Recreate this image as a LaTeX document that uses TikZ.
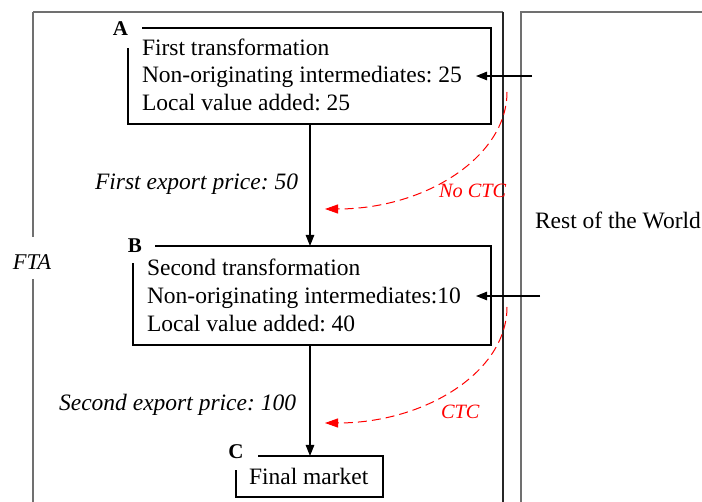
\documentclass[tikz,border=0pt]{standalone}
\usepackage{fontspec}
\setmainfont{Liberation Serif}
\usetikzlibrary{arrows.meta}
\definecolor{framegray}{HTML}{707070}
\frenchspacing
\begin{document}
\begin{tikzpicture}[x=1pt,y=-1pt,
  every node/.style={inner sep=0pt, outer sep=0pt},
  txt/.style={anchor=base west, font=\fontsize{23.5}{27}\selectfont},
  itxt/.style={anchor=base east, font=\fontsize{23.5}{27}\selectfont\itshape},
  redtxt/.style={anchor=base west, text=red, font=\fontsize{20.3}{23}\selectfont\itshape},
  letter/.style={font=\fontsize{21}{24}\selectfont\bfseries},
  area/.style={draw=none, rectangle},
  boxline/.style={draw=black, line width=1.1pt},
  frame/.style={draw=framegray, line width=1.4pt},
  flow/.style={draw=black, line width=1.1pt, -{Triangle[length=11pt,width=8.5pt]}},
  ctc/.style={draw=red, line width=1pt, dash pattern=on 9pt off 5pt,
    -{Triangle[length=13pt,width=9pt]}, red},
]
\useasboundingbox (0,0) rectangle (702,502);

% FTA region
\node[font=\fontsize{22.5}{26}\selectfont\itshape, inner sep=0pt] (fta) at (32,262) {FTA};
\draw[frame] (33,12) -- (503,12);
\draw[frame] (33,12) -- (33,237);
\draw[frame] (33,279) -- (33,510);
\draw[draw=black!85, line width=1.1pt] (503,12) -- (503,510);

% Rest of the World region
\draw[frame] (710,12) -- (521,12) -- (521,510);
\node[txt] (row) at (535,229) {Rest of the World};

% Box A
\node[area, minimum width=363pt, minimum height=96pt] (A) at (309.5,76) {};
\draw[boxline] ([xshift=14pt]A.north west) -- (A.north east) -- (A.south east)
  -- (A.south west) -- ([yshift=-20pt]A.north west);
\node[letter, anchor=base] (la) at (120.5,36) {A};
\node[txt] (a1) at (142,56) {First transformation};
\node[txt] (a2) at (142,83) {Non-originating intermediates: 25};
\node[txt] (a3) at (142,111) {Local value added: 25};

% Box B
\node[area, minimum width=358pt, minimum height=99pt] (B) at (312,295.5) {};
\draw[boxline] ([xshift=22pt]B.north west) -- (B.north east) -- (B.south east)
  -- (B.south west) -- ([yshift=-17pt]B.north west);
\node[letter, anchor=base] (lb) at (135,253) {B};
\node[txt] (b1) at (147,276) {Second transformation};
\node[txt] (b2) at (147,304) {Non-originating intermediates:10};
\node[txt] (b3) at (147,332) {Local value added: 40};

% Box C
\node[area, minimum width=147pt, minimum height=41pt] (C) at (309.5,476.5) {};
\draw[boxline] ([xshift=22pt]C.north west) -- (C.north east) -- (C.south east)
  -- (C.south west) -- ([yshift=-14pt]C.north west);
\node[letter, anchor=base] (lc) at (236,459) {C};
\node[txt] (c1) at (249,485) {Final market};

% Flow of goods
\draw[flow] (310,124) -- (310,246);
\draw[flow] (310,345) -- (310,456);
\node[itxt] (p1) at (298,190) {First export price: 50};
\node[itxt] (p2) at (296,411) {Second export price: 100};

% Imported intermediates
\coordinate (ia) at (532,76);
\coordinate (ib) at (540,296);
\draw[flow] (ia) -- (476,76);
\draw[flow] (ib) -- (476,296);

% Tariff classification change
\coordinate (ra) at (507,92);
\coordinate (rb) at (507,307);
\draw[ctc] (ra) .. controls (507,157) and (425,209) .. (325,209);
\draw[ctc] (rb) .. controls (507,372) and (425,423) .. (325,423);
\node[redtxt] (nctc) at (439,198) {No CTC};
\node[redtxt] (yctc) at (441,419) {CTC};
\end{tikzpicture}
\end{document}
